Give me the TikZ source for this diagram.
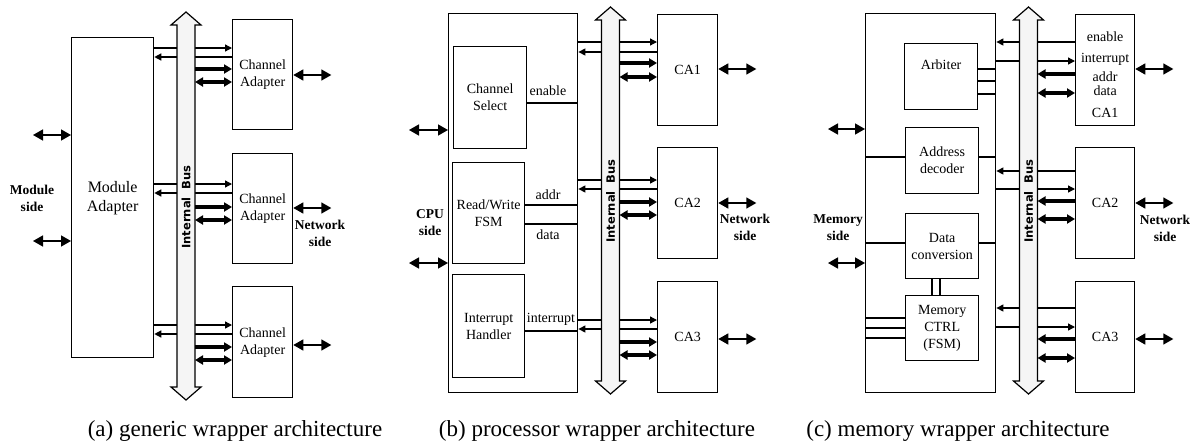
\documentclass[tikz,border=0pt]{standalone}
\usepackage{fontspec}
\setmainfont{Liberation Serif}
\newfontfamily\busfont{DejaVu Sans}
\usetikzlibrary{arrows.meta}

\tikzset{
  blk/.style={draw, line width=1.3pt, inner sep=0pt, anchor=north west,
    align=center, font=\fontsize{14}{17}\selectfont},
  wire/.style={line width=1.3pt, >={Triangle[length=7pt,width=7pt]}},
  fat/.style={line width=3.2pt, >={Triangle[length=8pt,width=9pt]}},
  net/.style={line width=1.5pt, <->, >={Triangle[length=10pt,width=11pt]}},
  bus/.style={draw, line width=1.2pt, fill=gray!8},
  buslbl/.style={rotate=90, font=\busfont\bfseries\fontsize{11.5}{13}\selectfont},
  lbl/.style={font=\fontsize{14}{16}\selectfont},
  side/.style={align=center, font=\fontsize{13.5}{17}\selectfont\bfseries},
  captxt/.style={font=\fontsize{23}{26}\selectfont}
}

\begin{document}
\begin{tikzpicture}[x=1pt, y=-1pt]
    \useasboundingbox (0,0) rectangle (1193,445);

    % (a) generic wrapper
    \node[blk, minimum width=82, minimum height=320,
          font=\fontsize{16}{19}\selectfont] (ma) at (71,37) {Module\\Adapter};
    \node[blk, minimum width=60, minimum height=110] (ca1a) at (232,19) {Channel\\Adapter};
    \node[blk, minimum width=60, minimum height=110] (ca2a) at (232,153) {Channel\\Adapter};
    \node[blk, minimum width=60, minimum height=111] (ca3a) at (232,286) {Channel\\Adapter};
    \node[side] (moda) at (32,198) {Module\\side};
    \node[side] (neta) at (320,233) {Network\\side};

    \foreach \ca/\ya/\yb in {ca1a/48/57, ca2a/184/193, ca3a/325/334} {
        \draw[wire,->] (ma.east |- 0,\ya) -- (\ca.west |- 0,\ya);
        \draw[wire,->] (\ca.west |- 0,\yb) -- (ma.east |- 0,\yb);
    }
    \foreach \y in {135,241}
        \draw[net] (ma.west |- 0,\y) -- ++(-38,0);

    % (b) processor wrapper
    \node[blk, line width=1.4pt, minimum width=129, minimum height=379] (wrapb) at (448,13) {};
    \node[blk, minimum width=73, minimum height=102] (chsel) at (453,46) {Channel\\Select};
    \node[blk, minimum width=72, minimum height=101] (rwfsm) at (452,162) {Read/Write\\FSM};
    \node[blk, minimum width=72, minimum height=103] (irqh) at (452,274) {Interrupt\\Handler};
    \node[blk, minimum width=60, minimum height=111] (ca1b) at (657,14) {CA1};
    \node[blk, minimum width=60, minimum height=111] (ca2b) at (657,147) {CA2};
    \node[blk, minimum width=60, minimum height=111] (ca3b) at (657,281) {CA3};
    \node[side] (cpub) at (430,223) {CPU\\side};
    \node[side] (netb) at (745,227) {Network\\side};

    \draw[wire] (chsel.east |- 0,103) -- (wrapb.east |- 0,103);
    \draw[fat, line width=2.6pt] (rwfsm.east |- 0,205) -- (wrapb.east |- 0,205);
    \draw[fat, line width=2.6pt] (rwfsm.east |- 0,224) -- (wrapb.east |- 0,224);
    \draw[wire] (irqh.east |- 0,331) -- (wrapb.east |- 0,331);
    \node[lbl] (enb) at (548,91) {enable};
    \node[lbl] (adb) at (548,195) {addr};
    \node[lbl] (dtb) at (548,235) {data};
    \node[lbl] (irb) at (551,319) {interrupt};

    \foreach \ca/\ya/\yb in {ca1b/42/52, ca2b/180/189, ca3b/320/329} {
        \draw[wire,->] (wrapb.east |- 0,\ya) -- (\ca.west |- 0,\ya);
        \draw[wire,->] (\ca.west |- 0,\yb) -- (wrapb.east |- 0,\yb);
    }
    \foreach \y in {130,263}
        \draw[net] (wrapb.west |- 0,\y) -- ++(-39,0);

    % (c) memory wrapper
    \node[blk, line width=1.4pt, minimum width=130, minimum height=379] (wrapc) at (865,13) {};
    \node[blk, minimum width=73, minimum height=66, text height=10pt, text depth=24pt] (arb) at (904,43) {Arbiter};
    \node[blk, minimum width=73, minimum height=66] (adec) at (905,127) {Address\\decoder};
    \node[blk, minimum width=73, minimum height=65] (dconv) at (905,213) {Data\\conversion};
    \node[blk, minimum width=73, minimum height=65] (mctrl) at (905,295) {Memory\\CTRL\\(FSM)};
    \node[blk, minimum width=59, minimum height=111, font=\fontsize{14}{15}\selectfont]
        (ca1c) at (1075,14) {\rule{0pt}{18pt}enable\\[6pt]interrupt\\[4pt]addr\\[-1pt]data\\[7pt]CA1};
    \node[blk, minimum width=59, minimum height=111] (ca2c) at (1075,147) {CA2};
    \node[blk, minimum width=59, minimum height=111] (ca3c) at (1075,281) {CA3};
    \node[side] (memc) at (838,228) {Memory\\side};
    \node[side] (netc) at (1165,228) {Network\\side};

    \foreach \y in {69,81,94}
        \draw[wire] (arb.east |- 0,\y) -- (wrapc.east |- 0,\y);
    \foreach \blk/\y in {adec/157, dconv/243} {
        \draw[fat, line width=2.4pt] (wrapc.west |- 0,\y) -- (\blk.west |- 0,\y);
        \draw[fat, line width=2.4pt] (\blk.east |- 0,\y) -- (wrapc.east |- 0,\y);
    }
    \foreach \x in {932,940}
        \draw[wire] (dconv.south -| \x,0) -- (mctrl.north -| \x,0);
    \foreach \y in {318,328,338}
        \draw[wire] (wrapc.west |- 0,\y) -- (mctrl.west |- 0,\y);

    \foreach \ca/\ya/\yb in {ca1c/42/61, ca2c/171/189, ca3c/308/327} {
        \draw[wire,->] (\ca.west |- 0,\ya) -- (wrapc.east |- 0,\ya);
        \draw[wire,->] (wrapc.east |- 0,\yb) -- (\ca.west |- 0,\yb);
    }
    \foreach \y in {129,263}
        \draw[net] (wrapc.west |- 0,\y) -- ++(-37,0);

    % internal buses
    \foreach \n/\cx/\t/\b/\ly in {a/186/12/400/207, b/610.5/7/394/201, c/1028.5/7/394/201} {
        \draw[bus] ({\cx-9},{\t+13}) -- ({\cx-15},{\t+13}) -- (\cx,\t) -- ({\cx+15},{\t+13})
            -- ({\cx+9},{\t+13}) -- ({\cx+9},{\b-13}) -- ({\cx+15},{\b-13}) -- (\cx,\b)
            -- ({\cx-15},{\b-13}) -- ({\cx-9},{\b-13}) -- cycle;
        \node[buslbl] (bus\n lbl) at (\cx,\ly) {Internal~~Bus};
        \coordinate (bus\n E) at ({\cx+9},\ly);
    }

    % bus to channel adapters
    \foreach \ca/\bus/\yc/\yd in {ca1a/busaE/69/82, ca2a/busaE/207/220, ca3a/busaE/347/360,
                                   ca1b/busbE/63/77, ca2b/busbE/202/215, ca3b/busbE/342/355} {
        \draw[fat,->] (\bus |- 0,\yc) -- (\ca.west |- 0,\yc);
        \draw[fat,<->] (\bus |- 0,\yd) -- (\ca.west |- 0,\yd);
    }
    \foreach \ca/\yc/\yd in {ca1c/74/93, ca2c/201/219, ca3c/339/358} {
        \draw[fat,->] (\ca.west |- 0,\yc) -- (buscE |- 0,\yc);
        \draw[fat,<->] (buscE |- 0,\yd) -- (\ca.west |- 0,\yd);
    }

    % network side
    \foreach \ca/\y in {ca1a/75, ca2a/208, ca3a/345, ca1b/69, ca2b/203, ca3b/339,
                        ca1c/69, ca2c/203, ca3c/339}
        \draw[net] (\ca.east |- 0,\y) -- ++(38,0);

    % captions
    \node[captxt] (capa) at (235,431) {(a) generic wrapper architecture};
    \node[captxt] (capb) at (597,431) {(b) processor wrapper architecture};
    \node[captxt] (capc) at (958,431) {(c) memory wrapper architecture};
\end{tikzpicture}
\end{document}
